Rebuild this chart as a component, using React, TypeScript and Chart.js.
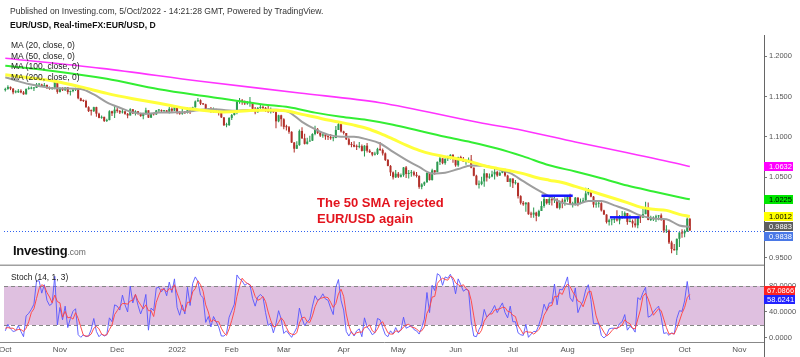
import React, { useEffect, useRef } from "react";
import { Chart, registerables } from "chart.js";

Chart.register(...registerables);

const FONT = "'Liberation Sans', Arial, Helvetica, sans-serif";

// ---- Daily EUR/USD candles, 1 Oct 2021 .. 5 Oct 2022 (bar index 0..263) ----
const firstOpen = 1.158;
const closes = [
  1.1595,1.1620,1.1598,1.1553,1.1553,1.1572,1.1552,1.1528,1.1595,1.1599,
  1.1601,1.1608,1.1650,1.1650,1.1623,1.1644,1.1608,1.1597,1.1602,1.1683,
  1.1558,1.1607,1.1579,1.1613,1.1556,1.1568,1.1587,1.1594,1.1479,1.1446,
  1.1445,1.1368,1.1320,1.1319,1.1369,1.1288,1.1236,1.1249,1.1198,1.1208,
  1.1318,1.1292,1.1338,1.1321,1.1303,1.1316,1.1286,1.1265,1.1343,1.1291,
  1.1317,1.1284,1.1258,1.1290,1.1330,1.1239,1.1284,1.1279,1.1328,1.1329,
  1.1320,1.1328,1.1311,1.1349,1.1325,1.1370,1.1298,1.1287,1.1312,1.1297,
  1.1359,1.1328,1.1367,1.1440,1.1455,1.1411,1.1404,1.1324,1.1343,1.1310,
  1.1344,1.1326,1.1302,1.1242,1.1145,1.1147,1.1235,1.1271,1.1301,1.1439,
  1.1451,1.1440,1.1415,1.1424,1.1426,1.1349,1.1306,1.1358,1.1372,1.1360,
  1.1322,1.1308,1.1330,1.1307,1.1193,1.1268,1.1219,1.1124,1.1120,1.1063,
  1.0930,1.0853,1.0898,1.1074,1.0983,1.0913,1.0941,1.0953,1.1036,1.1093,
  1.1050,1.1016,1.1030,1.1006,1.0997,1.0983,1.0985,1.1086,1.1158,1.1067,
  1.1048,1.0970,1.0905,1.0900,1.0878,1.0876,1.0885,1.0826,1.0891,1.0828,
  1.0810,1.0780,1.0788,1.0852,1.0837,1.0795,1.0713,1.0640,1.0560,1.0498,
  1.0543,1.0506,1.0525,1.0621,1.0540,1.0550,1.0560,1.0530,1.0514,1.0380,
  1.0410,1.0437,1.0552,1.0464,1.0585,1.0562,1.0690,1.0734,1.0674,1.0727,
  1.0733,1.0778,1.0733,1.0647,1.0749,1.0720,1.0693,1.0703,1.0716,1.0618,
  1.0518,1.0407,1.0414,1.0447,1.0547,1.0495,1.0508,1.0535,1.0566,1.0521,
  1.0554,1.0584,1.0520,1.0441,1.0484,1.0425,1.0427,1.0265,1.0182,1.0163,
  1.0185,1.0040,1.0036,1.0060,1.0020,1.0080,1.0143,1.0228,1.0177,1.0229,
  1.0213,1.0224,1.0119,1.0199,1.0196,1.0222,1.0260,1.0163,1.0166,1.0246,
  1.0182,1.0195,1.0212,1.0298,1.0319,1.0259,1.0160,1.0170,1.0177,1.0088,
  1.0036,0.9943,0.9966,0.9968,0.9972,0.9964,1.0003,1.0016,1.0054,0.9945,
  0.9955,0.9926,0.9903,1.0007,0.9998,1.0041,1.0121,0.9969,0.9978,0.9998,
  1.0014,1.0027,0.9971,0.9838,0.9838,0.9690,0.9608,0.9593,0.9735,0.9815,
  0.9802,0.9827,0.9985,0.9838,
];
const highs = [
  1.1610,1.1640,1.1625,1.1605,1.1580,1.1595,1.1590,1.1570,1.1600,1.1625,
  1.1625,1.1620,1.1668,1.1665,1.1660,1.1670,1.1650,1.1625,1.1620,1.1692,
  1.1693,1.1615,1.1616,1.1617,1.1620,1.1575,1.1600,1.1610,1.1610,1.1485,
  1.1465,1.1460,1.1380,1.1340,1.1375,1.1375,1.1300,1.1265,1.1250,1.1225,
  1.1330,1.1325,1.1383,1.1360,1.1335,1.1350,1.1320,1.1295,1.1355,1.1345,
  1.1330,1.1320,1.1300,1.1300,1.1360,1.1330,1.1300,1.1300,1.1335,1.1345,
  1.1340,1.1335,1.1335,1.1370,1.1365,1.1385,1.1375,1.1320,1.1345,1.1320,
  1.1365,1.1360,1.1375,1.1450,1.1482,1.1465,1.1420,1.1410,1.1355,1.1370,
  1.1365,1.1350,1.1325,1.1305,1.1245,1.1175,1.1245,1.1285,1.1310,1.1450,
  1.1483,1.1470,1.1450,1.1445,1.1495,1.1430,1.1370,1.1370,1.1395,1.1390,
  1.1370,1.1395,1.1365,1.1345,1.1315,1.1275,1.1275,1.1230,1.1150,1.1135,
  1.1070,1.0935,1.0945,1.1090,1.1120,1.1040,1.0990,1.1015,1.1045,1.1137,
  1.1110,1.1070,1.1045,1.1040,1.1035,1.1035,1.1000,1.1135,1.1185,1.1160,
  1.1075,1.1045,1.0990,1.0935,1.0945,1.0905,1.0935,1.0905,1.0895,1.0925,
  1.0845,1.0810,1.0815,1.0865,1.0935,1.0855,1.0805,1.0725,1.0650,1.0570,
  1.0590,1.0565,1.0545,1.0625,1.0640,1.0590,1.0590,1.0580,1.0565,1.0525,
  1.0425,1.0445,1.0560,1.0565,1.0605,1.0590,1.0695,1.0750,1.0735,1.0735,
  1.0765,1.0785,1.0785,1.0740,1.0755,1.0765,1.0750,1.0710,1.0745,1.0775,
  1.0620,1.0530,1.0460,1.0505,1.0600,1.0550,1.0545,1.0580,1.0605,1.0580,
  1.0570,1.0615,1.0605,1.0530,1.0485,1.0485,1.0465,1.0435,1.0275,1.0205,
  1.0190,1.0190,1.0070,1.0125,1.0070,1.0095,1.0200,1.0270,1.0230,1.0280,
  1.0255,1.0255,1.0240,1.0210,1.0235,1.0255,1.0275,1.0295,1.0195,1.0255,
  1.0250,1.0235,1.0245,1.0368,1.0365,1.0330,1.0265,1.0200,1.0200,1.0190,
  1.0095,1.0040,0.9985,0.9985,1.0010,1.0090,1.0030,1.0080,1.0075,1.0055,
  1.0033,0.9975,0.9990,1.0010,1.0030,1.0115,1.0195,1.0185,1.0020,1.0015,
  1.0035,1.0030,1.0050,0.9975,0.9905,0.9850,0.9710,0.9670,0.9740,0.9815,
  0.9855,0.9850,0.9999,0.9990,
];
const lows = [
  1.1563,1.1585,1.1580,1.1529,1.1540,1.1545,1.1540,1.1524,1.1525,1.1585,
  1.1590,1.1570,1.1605,1.1620,1.1618,1.1620,1.1595,1.1585,1.1585,1.1590,
  1.1535,1.1550,1.1570,1.1570,1.1529,1.1514,1.1555,1.1570,1.1467,1.1443,
  1.1432,1.1360,1.1310,1.1265,1.1310,1.1250,1.1230,1.1226,1.1186,1.1185,
  1.1205,1.1260,1.1235,1.1300,1.1285,1.1290,1.1275,1.1230,1.1265,1.1285,
  1.1265,1.1275,1.1250,1.1220,1.1275,1.1235,1.1235,1.1265,1.1270,1.1310,
  1.1310,1.1300,1.1300,1.1290,1.1300,1.1320,1.1280,1.1275,1.1275,1.1285,
  1.1290,1.1285,1.1315,1.1365,1.1435,1.1395,1.1395,1.1315,1.1310,1.1300,
  1.1300,1.1295,1.1265,1.1235,1.1135,1.1121,1.1135,1.1210,1.1265,1.1280,
  1.1410,1.1400,1.1395,1.1400,1.1375,1.1340,1.1280,1.1300,1.1345,1.1340,
  1.1310,1.1300,1.1290,1.1300,1.1106,1.1180,1.1130,1.1095,1.1080,1.1040,
  1.0925,1.0806,1.0850,1.0890,1.0975,1.0905,1.0905,1.0945,1.0950,1.1020,
  1.1035,1.1000,1.0990,1.0965,1.0960,1.0965,1.0945,1.0985,1.1085,1.1055,
  1.1030,1.0960,1.0895,1.0870,1.0870,1.0837,1.0860,1.0820,1.0757,1.0805,
  1.0800,1.0760,1.0770,1.0775,1.0825,1.0770,1.0700,1.0635,1.0515,1.0470,
  1.0490,1.0490,1.0495,1.0505,1.0490,1.0485,1.0505,1.0510,1.0495,1.0355,
  1.0350,1.0390,1.0430,1.0460,1.0460,1.0530,1.0560,1.0650,1.0660,1.0655,
  1.0700,1.0720,1.0680,1.0630,1.0630,1.0705,1.0690,1.0655,1.0680,1.0610,
  1.0510,1.0400,1.0360,1.0400,1.0380,1.0445,1.0480,1.0500,1.0470,1.0505,
  1.0515,1.0550,1.0505,1.0440,1.0380,1.0365,1.0410,1.0235,1.0160,1.0145,
  1.0070,1.0035,0.9998,0.9998,0.9952,1.0005,1.0080,1.0120,1.0160,1.0155,
  1.0150,1.0180,1.0110,1.0100,1.0115,1.0145,1.0195,1.0160,1.0125,1.0150,
  1.0140,1.0165,1.0185,1.0200,1.0275,1.0250,1.0125,1.0120,1.0125,1.0075,
  1.0035,0.9925,0.9900,0.9905,0.9930,0.9950,0.9915,0.9985,0.9990,0.9910,
  0.9940,0.9877,0.9875,0.9865,0.9930,0.9995,1.0040,0.9965,0.9955,0.9955,
  0.9945,0.9965,0.9960,0.9810,0.9808,0.9670,0.9555,0.9590,0.9536,0.9635,
  0.9750,0.9755,0.9820,0.9835,
];

// ---- Moving averages (bar index, value) ----
const ma20Idx = [0,4,9,14,19,24,29,34,39,44,49,54,59,64,69,74,79,84,89,94,99,104,109,114,119,124,129,134,139,144,149,154,159,164,169,174,179,184,189,194,199,204,209,214,219,224,229,234,239,244,249,254,259,263];
const ma20Val = [1.1740,1.1700,1.1655,1.1625,1.1602,1.1601,1.1593,1.1527,1.1429,1.1362,1.1304,1.1287,1.1301,1.1304,1.1307,1.1330,1.1347,1.1333,1.1325,1.1335,1.1333,1.1338,1.1308,1.1187,1.1096,1.1028,1.1003,1.1001,1.0969,1.0918,1.0814,1.0716,1.0627,1.0546,1.0555,1.0601,1.0646,1.0641,1.0602,1.0550,1.0450,1.0351,1.0262,1.0181,1.0160,1.0204,1.0203,1.0150,1.0096,1.0026,0.9988,0.9978,0.9901,0.9883];
const ma50Idx = [0,9,19,29,39,49,54,59,64,69,74,79,84,89,94,99,104,109,114,119,124,129,134,139,144,149,154,159,164,169,174,179,184,189,194,199,204,209,214,219,224,229,234,239,244,249,254,259,263];
const ma50Val = [1.1770,1.1735,1.1690,1.1620,1.1540,1.1474,1.1445,1.1417,1.1387,1.1356,1.1337,1.1319,1.1310,1.1314,1.1326,1.1331,1.1330,1.1317,1.1279,1.1246,1.1209,1.1179,1.1146,1.1104,1.1043,1.0972,1.0897,1.0832,1.0786,1.0755,1.0726,1.0690,1.0642,1.0609,1.0579,1.0544,1.0496,1.0463,1.0433,1.0386,1.0337,1.0285,1.0236,1.0184,1.0128,1.0101,1.0088,1.0039,1.0012];
const ma100Idx = [0,19,39,59,79,99,109,119,129,139,149,159,169,179,189,199,209,219,229,239,249,259,263];
const ma100Val = [1.1883,1.1815,1.1720,1.1590,1.1495,1.1402,1.1367,1.1301,1.1249,1.1209,1.1151,1.1075,1.1001,1.0934,1.0856,1.0758,1.0647,1.0571,1.0487,1.0396,1.0322,1.0251,1.0225];
const ma200Idx = [0,37,75,113,144,182,199,219,239,259,263];
const ma200Val = [1.1975,1.1850,1.1690,1.1545,1.1424,1.1178,1.1080,1.0936,1.0803,1.0663,1.0632];

// ---- Hand-drawn horizontal levels (start bar, end bar, price) ----
const levelStart = [206, 232.3];
const levelEnd = [218, 243.7];
const levelPrice = [1.027, 1.0002];

// ---- Stochastic (14, 1, 3) ----
const stochK = [
  11,21,14,10,11,19,10,2,34,38, 44,52,88,88,69,82,58,50,53,95,
  20,47,28,49,16,30,41,45,5,1, 5,2,3,13,30,10,2,6,3,5,
  31,25,51,49,43,66,51,40,80,54, 67,50,37,48,67,12,46,42,77,78,
  71,77,65,86,70,91,47,35,51,37, 78,50,84,94,87,66,62,24,33,17,
  33,25,17,3,3,7,32,42,52,97, 91,88,81,84,82,61,49,63,67,63,
  39,19,23,8,22,42,29,7,11,6, 1,8,16,46,30,19,25,29,49,65,
  58,61,68,60,58,46,36,78,90,58, 43,10,3,10,3,11,14,2,31,17,
  12,5,8,30,28,16,5,2,11,6, 16,8,12,32,15,17,19,13,11,6,
  16,29,70,39,81,73,99,96,81,94, 92,98,88,68,91,82,72,75,73,26,
  3,2,13,20,44,32,36,42,50,39, 47,54,39,31,49,25,25,8,5,4,
  21,1,6,10,10,20,33,52,42,54, 54,83,51,75,74,82,94,62,56,77,
  39,49,57,74,82,59,22,22,23,4, 0,4,14,15,15,14,22,25,36,12,
  18,15,9,62,59,70,78,32,34,40, 45,49,32,7,8,4,8,6,30,42,
  41,57,87,58.6241,
];
const stochD = [
  15,16,15,15,12,13,13,10,15,25, 39,45,61,76,82,80,70,63,54,66,
  56,54,32,41,31,32,29,39,30,17, 4,3,3,6,15,18,14,6,4,5,
  13,20,36,42,48,53,53,52,57,58, 67,57,51,45,51,42,42,33,55,66,
  75,75,71,76,74,82,69,58,44,41, 55,55,71,76,88,82,72,51,40,25,
  28,25,25,15,8,4,14,27,42,64, 80,92,87,84,82,76,64,58,60,64,
  56,40,27,17,18,24,31,26,16,8, 6,5,8,23,31,32,25,24,34,48,
  57,61,62,63,62,55,47,53,68,75, 64,37,19,8,5,8,9,9,16,17,
  20,11,8,14,22,25,16,8,6,6, 11,10,12,17,20,21,17,16,14,10,
  11,17,38,46,63,64,84,89,92,90, 89,95,93,85,82,80,82,76,73,58,
  34,10,6,12,26,32,37,37,43,44, 45,47,47,41,40,35,33,19,13,6,
  10,9,9,6,9,13,21,35,42,49, 50,64,63,70,67,77,83,79,71,65,
  57,55,48,60,71,72,54,34,22,16, 9,3,6,11,15,15,17,20,28,24,
  22,15,14,29,43,64,69,60,48,35, 40,45,42,29,16,6,7,6,15,26,
  38,47,62,67.0866,
];
const stochBand = [20, 80];

// ---- Axis ticks ----
const monthTickIdx = [0,21,43,66,87,107,130,151,173,195,216,239,261,282];
const monthTickLabels = ["Oct","Nov","Dec","2022","Feb","Mar","Apr","May","Jun","Jul","Aug","Sep","Oct","Nov"];
const priceMin = 0.9398, priceMax = 1.2264, priceStep = 0.05;
const stochMin = -6.2, stochMax = 110.8, stochStep = 40;
const xMin = -0.5, xMax = 291.5;

const maLegend = ["MA (20, close, 0)", "MA (50, close, 0)", "MA (100, close, 0)", "MA (200, close, 0)"];

function placeLabels(ys: number[], h: number, dir: "down" | "up"): number[] {
  const order = ys.map((_, i) => i).sort((a, b) => ys[a] - ys[b]);
  const out = ys.slice();
  if (dir === "down") {
    for (let k = 1; k < order.length; k++) {
      const p = order[k - 1], c = order[k];
      if (out[c] < out[p] + h) out[c] = out[p] + h;
    }
  } else {
    for (let k = order.length - 2; k >= 0; k--) {
      const n = order[k + 1], c = order[k];
      if (out[c] > out[n] - h) out[c] = out[n] - h;
    }
  }
  return out;
}

function drawBox(ctx: CanvasRenderingContext2D, x: number, y: number, w: number, h: number, bg: string, fg: string, text: string, tx: number) {
  ctx.fillStyle = bg;
  ctx.fillRect(x, Math.round(y - h / 2), w, h);
  ctx.fillStyle = fg;
  ctx.font = `7.5px ${FONT}`;
  ctx.textBaseline = "middle";
  ctx.textAlign = "left";
  ctx.fillText(text, tx, Math.round(y - h / 2) + h / 2 + 0.5);
}

export default function App() {
  const mainRef = useRef<HTMLCanvasElement>(null);
  const stochRef = useRef<HTMLCanvasElement>(null);

  useEffect(() => {
    const opens = [firstOpen, ...closes.slice(0, -1)];
    const colors = closes.map((c, i) => (c >= opens[i] ? "#2b9a50" : "#b2302a"));
    const bodyData = closes.map((c, i) => ({ x: i, y: [opens[i], c] }));
    const wickData = closes.map((_, i) => ({ x: i, y: [lows[i], highs[i]] }));
    const pts = (idx: number[], val: number[]) => idx.map((x, i) => ({ x, y: val[i] }));
    const lastClose = closes[closes.length - 1];

    const priceLabels = [
      { v: ma200Val[ma200Val.length - 1], bg: "#ff00ff", fg: "#ffffff" },
      { v: ma100Val[ma100Val.length - 1], bg: "#00e600", fg: "#000000" },
      { v: ma50Val[ma50Val.length - 1], bg: "#ffff00", fg: "#000000" },
      { v: ma20Val[ma20Val.length - 1], bg: "#5e5e5e", fg: "#ffffff" },
      { v: lastClose, bg: "#4a78e6", fg: "#ffffff" },
    ];

    const mainPlugin = {
      id: "mainOverlay",
      beforeDatasetsDraw(chart: any) {
        const { ctx, chartArea: a, scales } = chart;
        const py = Math.round(scales.y.getPixelForValue(lastClose)) + 0.5;
        ctx.save();
        ctx.strokeStyle = "#2f62f0";
        ctx.lineWidth = 1;
        ctx.setLineDash([1, 2]);
        ctx.beginPath();
        ctx.moveTo(a.left, py);
        ctx.lineTo(a.right, py);
        ctx.stroke();
        ctx.restore();
      },
      afterDraw(chart: any) {
        const { ctx, chartArea: a, scales } = chart;
        ctx.save();
        ctx.strokeStyle = "#a0a0a0";
        ctx.lineWidth = 1.5;
        ctx.beginPath();
        ctx.moveTo(0, a.bottom - 0.75);
        ctx.lineTo(a.right, a.bottom - 0.75);
        ctx.stroke();
        const ys = placeLabels(priceLabels.map((l) => scales.y.getPixelForValue(l.v)), 9.5, "down");
        priceLabels.forEach((l, i) => drawBox(ctx, a.right, ys[i], 29, 9, l.bg, l.fg, l.v.toFixed(4), a.right + 5));
        ctx.restore();
      },
    };

    const main = new Chart(mainRef.current as HTMLCanvasElement, {
      type: "bar",
      data: {
        datasets: [
          ...levelStart.map((s, i) => ({
            type: "line" as const,
            data: [{ x: s, y: levelPrice[i] }, { x: levelEnd[i], y: levelPrice[i] }],
            borderColor: "#1414ff",
            borderWidth: 2.5,
            pointRadius: 0,
            order: 0,
          })),
          { type: "line" as const, data: pts(ma200Idx, ma200Val), borderColor: "#ff33ff", borderWidth: 1.6, pointRadius: 0, cubicInterpolationMode: "monotone" as const, order: 1 },
          { type: "line" as const, data: pts(ma100Idx, ma100Val), borderColor: "#33ee33", borderWidth: 2, pointRadius: 0, cubicInterpolationMode: "monotone" as const, order: 1 },
          { type: "line" as const, data: pts(ma50Idx, ma50Val), borderColor: "#ffff3a", borderWidth: 3, pointRadius: 0, cubicInterpolationMode: "monotone" as const, order: 1 },
          { type: "line" as const, data: pts(ma20Idx, ma20Val), borderColor: "#9e9e9e", borderWidth: 2, pointRadius: 0, cubicInterpolationMode: "monotone" as const, order: 1 },
          { type: "bar" as const, data: bodyData as any, backgroundColor: colors, grouped: false, categoryPercentage: 1, barPercentage: 0.78, minBarLength: 1, order: 5 },
          { type: "bar" as const, data: wickData as any, backgroundColor: colors, grouped: false, categoryPercentage: 1, barPercentage: 0.4, order: 6 },
        ] as any,
      },
      options: {
        responsive: false,
        animation: false,
        events: [],
        layout: { padding: { left: 4, top: 35, right: 0, bottom: 0 } },
        plugins: { legend: { display: false }, tooltip: { enabled: false } },
        scales: {
          x: { type: "linear", min: xMin, max: xMax, display: false, offset: false },
          y: {
            type: "linear",
            position: "right",
            min: priceMin,
            max: priceMax,
            afterFit(s: any) { s.width = 36; s.paddingTop = 0; s.paddingBottom = 0; },
            ticks: { stepSize: priceStep, includeBounds: false, callback: (v: any) => Number(v).toFixed(4), font: { family: FONT, size: 7.5 }, color: "#555", padding: 2 },
            grid: { drawOnChartArea: false, drawTicks: true, tickLength: 3, color: "#777" },
            border: { display: true, color: "#666", width: 1 },
          },
        },
      } as any,
      plugins: [mainPlugin],
    });

    const stochLabels = [
      { v: stochD[stochD.length - 1], bg: "#ff2222", fg: "#ffffff" },
      { v: stochK[stochK.length - 1], bg: "#2222ff", fg: "#ffffff" },
    ];

    const stochPlugin = {
      id: "stochOverlay",
      beforeDatasetsDraw(chart: any) {
        const { ctx, chartArea: a, scales } = chart;
        const yTop = scales.y.getPixelForValue(stochBand[1]);
        const yBot = scales.y.getPixelForValue(stochBand[0]);
        ctx.save();
        ctx.fillStyle = "#dfc0e0";
        ctx.fillRect(a.left, yTop, a.right - a.left, yBot - yTop);
        ctx.strokeStyle = "#858585";
        ctx.lineWidth = 1;
        ctx.setLineDash([4, 3]);
        [yTop, yBot].forEach((y) => {
          const py = Math.round(y) + 0.5;
          ctx.beginPath();
          ctx.moveTo(a.left, py);
          ctx.lineTo(a.right, py);
          ctx.stroke();
        });
        ctx.restore();
      },
      afterDraw(chart: any) {
        const { ctx, chartArea: a, scales, height } = chart;
        ctx.save();
        ctx.strokeStyle = "#666";
        ctx.lineWidth = 1;
        ctx.beginPath();
        ctx.moveTo(Math.round(a.right) + 0.5, a.bottom);
        ctx.lineTo(Math.round(a.right) + 0.5, height);
        ctx.stroke();
        ctx.strokeStyle = "#888";
        ctx.beginPath();
        ctx.moveTo(0, Math.round(a.bottom) + 0.5);
        ctx.lineTo(a.left, Math.round(a.bottom) + 0.5);
        ctx.stroke();
        const ys = placeLabels(stochLabels.map((l) => scales.y.getPixelForValue(l.v)), 9.5, "up");
        stochLabels.forEach((l, i) => drawBox(ctx, a.right, ys[i], 31, 9, l.bg, l.fg, l.v.toFixed(4), a.right + 3));
        ctx.restore();
      },
    };

    const stoch = new Chart(stochRef.current as HTMLCanvasElement, {
      type: "line",
      data: {
        datasets: [
          { data: stochK.map((v, i) => ({ x: i, y: v })), borderColor: "rgba(85,85,255,0.9)", borderWidth: 1, pointRadius: 0, order: 1 },
          { data: stochD.map((v, i) => ({ x: i, y: v })), borderColor: "rgba(255,70,70,0.95)", borderWidth: 1, pointRadius: 0, order: 0 },
        ],
      },
      options: {
        responsive: false,
        animation: false,
        events: [],
        layout: { padding: { left: 4, top: 0, right: 0, bottom: 0 } },
        plugins: { legend: { display: false }, tooltip: { enabled: false } },
        scales: {
          x: {
            type: "linear",
            min: xMin,
            max: xMax,
            afterBuildTicks(s: any) { s.ticks = monthTickIdx.map((v) => ({ value: v })); },
            afterFit(s: any) { s.height = 15; s.paddingLeft = 0; s.paddingRight = 0; },
            ticks: {
              autoSkip: false,
              maxRotation: 0,
              padding: 3,
              font: { family: FONT, size: 8 },
              color: "#555",
              callback: (v: any) => { const k = monthTickIdx.indexOf(Number(v)); return k >= 0 ? monthTickLabels[k] : ""; },
            },
            grid: { display: true, drawOnChartArea: false, drawTicks: false },
            border: { display: true, color: "#888", width: 1 },
          },
          y: {
            type: "linear",
            position: "right",
            min: stochMin,
            max: stochMax,
            afterFit(s: any) { s.width = 36; s.paddingTop = 0; s.paddingBottom = 0; },
            ticks: { stepSize: stochStep, includeBounds: false, callback: (v: any) => Number(v).toFixed(4), font: { family: FONT, size: 7.5 }, color: "#555", padding: 2 },
            grid: { drawOnChartArea: false, drawTicks: true, tickLength: 3, color: "#777" },
            border: { display: true, color: "#666", width: 1 },
          },
        },
      } as any,
      plugins: [stochPlugin],
    });

    return () => { main.destroy(); stoch.destroy(); };
  }, []);

  const txt = (extra: React.CSSProperties): React.CSSProperties => ({ position: "absolute", whiteSpace: "nowrap", fontFamily: FONT, ...extra });

  return (
    <div style={{ position: "absolute", left: 0, top: 0, width: 800, height: 357, background: "#ffffff", overflow: "hidden" }}>
      <canvas ref={mainRef} width={800} height={266} style={{ position: "absolute", left: 0, top: 0, width: 800, height: 266 }} />
      <canvas ref={stochRef} width={800} height={91} style={{ position: "absolute", left: 0, top: 266, width: 800, height: 91 }} />
      <div style={txt({ left: 10, top: 6, fontSize: 8.55, lineHeight: "10px", color: "#333" })}>
        Published on Investing.com, 5/Oct/2022 - 14:21:28 GMT, Powered by TradingView.
      </div>
      <div style={txt({ left: 10, top: 20, fontSize: 8.6, lineHeight: "10px", color: "#111", fontWeight: "bold" })}>
        EUR/USD, Real-timeFX:EUR/USD, D
      </div>
      {maLegend.map((t, i) => (
        <div key={t} style={txt({ left: 11, top: 40 + i * 10.5, fontSize: 8.5, lineHeight: "10px", color: "#222" })}>{t}</div>
      ))}
      <div style={txt({ left: 317, top: 195, fontSize: 13, lineHeight: "16px", color: "#e3141e", fontWeight: "bold" })}>
        The 50 SMA rejected<br />EUR/USD again
      </div>
      <div style={txt({ left: 13, top: 243, fontSize: 13, lineHeight: "16px", color: "#111", fontWeight: "bold", letterSpacing: "-0.3px" })}>
        Investing<span style={{ fontSize: 8.5, fontWeight: "normal", color: "#666", letterSpacing: 0 }}>.com</span>
      </div>
      <div style={txt({ left: 11, top: 272, fontSize: 8.4, lineHeight: "10px", color: "#222" })}>Stoch (14, 1, 3)</div>
    </div>
  );
}
